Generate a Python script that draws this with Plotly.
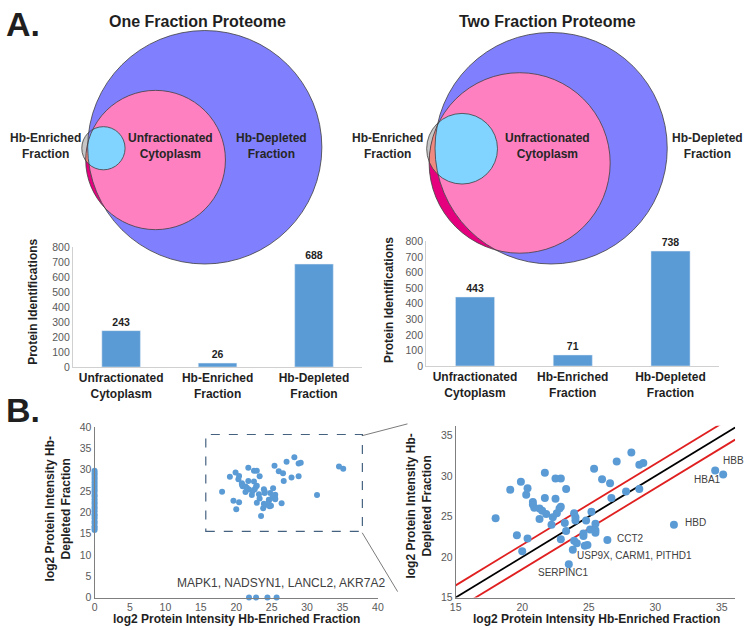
import numpy as np
import plotly.graph_objects as go

W, H = 750, 630

categories = ["Unfractionated<br>Cytoplasm", "Hb-Enriched<br>Fraction", "Hb-Depleted<br>Fraction"]
one_fraction_ids = [243, 26, 688]
two_fraction_ids = [443, 71, 738]

# proteins quantified in both fractions (log2 intensity)
enriched_log2 = [18.0, 19.1, 19.9, 19.6, 20.0, 20.3, 20.4, 20.4, 20.8, 20.8, 20.9, 21.3, 21.5, 21.8,
                 21.3, 21.7, 21.7, 22.3, 22.2, 22.5, 22.5, 22.9, 22.6, 22.8, 22.9, 22.9, 23.2, 23.3,
                 23.3, 23.5, 23.8, 23.9, 24.0, 23.9, 24.1, 24.6, 24.7, 24.8, 24.9, 25.2, 25.1, 25.5,
                 25.5, 25.4, 26.0, 26.4, 26.6, 26.7, 27.1, 27.8, 28.2, 28.8, 28.8, 29.1, 31.4, 34.5,
                 35.1, 24.6, 25.5, 24.0]
depleted_log2 = [24.8, 28.3, 29.3, 22.7, 20.7, 27.7, 28.5, 22.3, 26.8, 26.5, 26.1, 26.0, 25.7, 25.3,
                 24.7, 30.4, 27.3, 24.9, 24.0, 27.2, 29.7, 29.7, 25.4, 26.0, 26.2, 22.2, 24.2, 23.2,
                 28.4, 19.1, 20.9, 25.4, 24.5, 22.0, 21.7, 22.6, 21.4, 24.5, 21.5, 25.6, 23.4, 23.0,
                 24.1, 30.9, 29.6, 22.1, 29.1, 27.3, 31.8, 28.1, 32.9, 28.4, 31.4, 31.6, 24.0, 30.7,
                 30.2, 22.9, 23.3, 24.9]

# proteins seen in only one fraction (drawn at 0 on the other axis)
depleted_only_y = [15.8, 16.3, 16.7, 17.4, 17.9, 18.6, 19.1, 19.5, 20.2, 20.8, 21.3, 21.9, 22.4,
                   23.0, 23.7, 24.1, 24.8, 25.3, 25.9, 26.4, 27.0, 27.6, 28.1, 28.7, 29.2, 29.7]
enriched_only_x = [21.8, 22.8, 24.4, 25.7]

fold_band = 1.5  # red lines, log2 difference

# venn circles in pixels: (cx, cy, r)
venn_one = dict(depleted=(202, 144, 119), unfrac=(152, 157, 71), enriched=(99, 145, 22))
venn_two = dict(depleted=(554, 145, 118), unfrac=(522, 160, 92), enriched=(463.5, 145.5, 36))

BLUE = "#5B9BD5"
FONT = "Arial, Liberation Sans, sans-serif"


def px(x, y):
    return x / W, 1 - y / H


def circle_shape(c, fill, line="#3F3F3F", width=0.8):
    cx, cy, r = c
    x0, y1 = px(cx - r, cy - r)
    x1, y0 = px(cx + r, cy + r)
    return dict(type="circle", xref="paper", yref="paper", x0=x0, x1=x1, y0=y0, y1=y1,
                fillcolor=fill, line=dict(color=line, width=width), layer="below")


def clip(pts, c):
    cx, cy, r = c
    d = np.hypot(pts[:, 0] - cx, pts[:, 1] - cy)
    out = d > r
    pts = pts.copy()
    pts[out, 0] = cx + (pts[out, 0] - cx) * r / d[out]
    pts[out, 1] = cy + (pts[out, 1] - cy) * r / d[out]
    return pts


def ring(c, n=240):
    cx, cy, r = c
    t = np.linspace(0, 2 * np.pi, n, endpoint=False)
    return np.column_stack([cx + r * np.cos(t), cy + r * np.sin(t)])


def path_shape(pts, fill):
    p = [px(x, y) for x, y in pts]
    d = "M " + " L ".join(f"{a:.5f},{b:.5f}" for a, b in p) + " Z"
    return dict(type="path", xref="paper", yref="paper", path=d, fillcolor=fill,
                line=dict(width=0), layer="below")


shapes = []
for v in (venn_one, venn_two):
    shapes.append(circle_shape(v["enriched"], "#C6C6C6", width=0))
    shapes.append(circle_shape(v["unfrac"], "#E5007E", width=0))
    shapes.append(path_shape(clip(ring(v["enriched"]), v["unfrac"]), "#F08A80"))
    shapes.append(circle_shape(v["depleted"], "#8080FF", width=0))
    shapes.append(path_shape(clip(ring(v["unfrac"]), v["depleted"]), "#FF80C0"))
    shapes.append(path_shape(clip(clip(ring(v["enriched"]), v["depleted"]), v["unfrac"]), "#80D4FF"))
    for k in ("depleted", "unfrac", "enriched"):
        shapes.append(circle_shape(v[k], "rgba(0,0,0,0)"))

fig = go.Figure()

# bar charts
for ids, xa, ya in ((one_fraction_ids, "x", "y"), (two_fraction_ids, "x2", "y2")):
    fig.add_trace(go.Bar(x=categories, y=ids, xaxis=xa, yaxis=ya, marker_color=BLUE,
                         text=ids, textposition="outside", cliponaxis=False,
                         textfont=dict(size=10.5, color="#1F1F1F", weight="bold")))

# full range scatter
fig.add_trace(go.Scatter(x=[0] * len(depleted_only_y), y=depleted_only_y, xaxis="x3", yaxis="y3",
                         mode="lines+markers", line=dict(color=BLUE, width=5),
                         marker=dict(color=BLUE, size=6), cliponaxis=False))
fig.add_trace(go.Scatter(x=enriched_only_x, y=[0] * len(enriched_only_x), xaxis="x3", yaxis="y3",
                         mode="markers", marker=dict(color=BLUE, size=6), cliponaxis=False))
fig.add_trace(go.Scatter(x=enriched_log2, y=depleted_log2, xaxis="x3", yaxis="y3",
                         mode="markers", marker=dict(color=BLUE, size=6)))

# zoomed scatter with 1:1 and band lines
line_x = [15, 36]
fig.add_trace(go.Scatter(x=line_x, y=[v + fold_band for v in line_x], xaxis="x4", yaxis="y4",
                         mode="lines", line=dict(color="#E02020", width=1.8)))
fig.add_trace(go.Scatter(x=line_x, y=[v - fold_band for v in line_x], xaxis="x4", yaxis="y4",
                         mode="lines", line=dict(color="#E02020", width=1.8)))
fig.add_trace(go.Scatter(x=line_x, y=line_x, xaxis="x4", yaxis="y4",
                         mode="lines", line=dict(color="black", width=1.8)))
fig.add_trace(go.Scatter(x=enriched_log2, y=depleted_log2, xaxis="x4", yaxis="y4",
                         mode="markers", marker=dict(color=BLUE, size=8), cliponaxis=False))

# dashed zoom box on left scatter + connectors
shapes.append(dict(type="rect", xref="x3", yref="y3", x0=15.7, x1=37.8, y0=15.5, y1=38.2,
                   line=dict(color="#44627F", width=1.2, dash="dash")))
for (a, b), (c, d) in (((362, 438), (408, 426)), ((362, 537), (398, 597))):
    x0, y0 = px(a, b)
    x1, y1 = px(c, d)
    shapes.append(dict(type="line", xref="paper", yref="paper", x0=x0, y0=y0, x1=x1, y1=y1,
                       line=dict(color="#595959", width=0.8)))


def dom(a, b, axis="x"):
    if axis == "x":
        return [a / W, b / W]
    return [1 - b / H, 1 - a / H]


tick_gray = dict(size=10.5, color="#595959", family=FONT)
cat_font = dict(size=12, color="#1F1F1F", family=FONT, weight="bold")
sc_axis = dict(showgrid=False, zeroline=False, showline=True, linecolor="#7F7F7F", linewidth=1,
               ticks="", tickfont=dict(size=10.5, color="#595959", family=FONT))

fig.update_layout(
    width=W, height=H, margin=dict(l=0, r=0, t=0, b=0),
    paper_bgcolor="white", plot_bgcolor="rgba(0,0,0,0)",
    showlegend=False, bargap=0.6, font=dict(family=FONT),
    shapes=shapes,
    xaxis=dict(domain=dom(68, 362), anchor="y", showline=True, linecolor="#D0D0D0",
               tickfont=cat_font, ticks=""),
    yaxis=dict(domain=dom(246, 368, "y"), anchor="x", range=[0, 800], dtick=100, showgrid=False,
               showline=True, linecolor="#D0D0D0", zeroline=False, tickfont=tick_gray),
    xaxis2=dict(domain=dom(427, 725), anchor="y2", showline=True, linecolor="#D0D0D0",
                tickfont=cat_font, ticks=""),
    yaxis2=dict(domain=dom(240, 367, "y"), anchor="x2", range=[0, 800], dtick=100, showgrid=False,
                showline=True, linecolor="#D0D0D0", zeroline=False, tickfont=tick_gray),
    xaxis3=dict(domain=dom(90, 378), anchor="y3", range=[0, 40], dtick=5, **sc_axis),
    yaxis3=dict(domain=dom(429, 603, "y"), anchor="x3", range=[0, 40], dtick=5, **sc_axis),
    xaxis4=dict(domain=dom(457, 741), anchor="y4", range=[15, 36], dtick=5, **sc_axis),
    yaxis4=dict(domain=dom(428, 603, "y"), anchor="x4", range=[15, 36.2], dtick=5, **sc_axis),
)

ann = []


def note(text, x, y, size=12, bold=True, angle=0, color="#1F1F1F", xanchor="center"):
    xp, yp = px(x, y)
    ann.append(dict(text=text, x=xp, y=yp, xref="paper", yref="paper", showarrow=False,
                    textangle=angle, xanchor=xanchor, yanchor="middle",
                    font=dict(size=size, color=color, family=FONT,
                              weight="bold" if bold else "normal")))


note("A.", 17, 18, size=34)
note("B.", 17, 412, size=34)
note("One Fraction Proteome", 195, 16, size=16)
note("Two Fraction Proteome", 550, 16, size=16)
for x, t in ((40, "Hb-Enriched<br>Fraction"), (167, "Unfractionated<br>Cytoplasm"),
             (270, "Hb-Depleted<br>Fraction"), (388, "Hb-Enriched<br>Fraction"),
             (550, "Unfractionated<br>Cytoplasm"), (713, "Hb-Depleted<br>Fraction")):
    note(t, x, 143, color="#262626")
note("Protein Identifications", 28, 302, angle=-90)
note("Protein Identifications", 390, 300, angle=-90)
note("log2 Protein Intensity Hb-<br>Depleted Fraction", 53, 513, angle=-90)
note("log2 Protein Intensity Hb-<br>Depleted Fraction", 420, 510, angle=-90)
note("log2 Protein Intensity Hb-Enriched Fraction", 234, 624.5)
note("log2 Protein Intensity Hb-Enriched Fraction", 600, 624.5)

# protein labels
for t, x, y, xa, ax, sz in (("MAPK1, NADSYN1, LANCL2, AKR7A2", 26.3, 3.4, "center", "3", 12),
                            ("HBB", 34.9, 31.9, "left", "4", 10), ("HBA1", 33.9, 29.6, "center", "4", 10),
                            ("HBD", 32.1, 24.3, "left", "4", 10), ("CCT2", 27.0, 22.3, "left", "4", 10),
                            ("USP9X, CARM1, PITHD1", 24.0, 20.2, "left", "4", 10),
                            ("SERPINC1", 23.1, 18.1, "center", "4", 10)):
    ann.append(dict(text=t, x=x, y=y, xref="x" + ax, yref="y" + ax, showarrow=False,
                    xanchor=xa, font=dict(size=sz, color="#404040", family=FONT)))

fig.update_layout(annotations=ann)
# the page body has a default 8px margin; drop it so the figure sits at the window origin
fig.write_html("out.html", config={"displayModeBar": False},
               post_script="document.body.style.margin='0';")
